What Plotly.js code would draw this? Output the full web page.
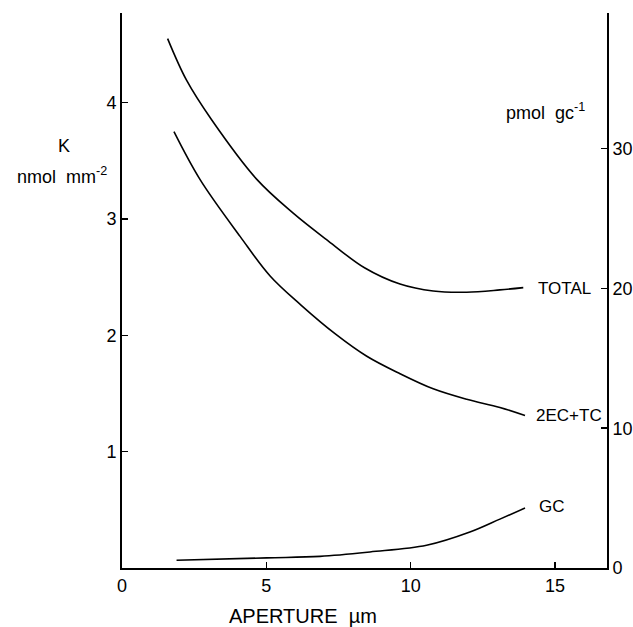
<!DOCTYPE html>
<html><head><meta charset="utf-8">
<script src="https://cdn.plot.ly/plotly-3.0.1.min.js"></script>
<style>html,body{margin:0;padding:0;background:#fff}</style>
</head><body>
<div id="chart" style="width:633px;height:627px"></div>
<script>
// TOTAL curve (K, nmol mm^-2 vs aperture µm)
var totalX = [1.58, 2.24, 3.11, 4.67, 5.93, 7.15, 8.40, 9.63, 10.78, 11.94, 13.09, 13.90];
var totalY = [4.55, 4.19, 3.85, 3.34, 3.05, 2.81, 2.58, 2.44, 2.38, 2.37, 2.39, 2.41];
// 2EC+TC curve
var ecX = [1.80, 2.70, 4.09, 5.13, 6.20, 7.40, 8.48, 9.63, 10.78, 11.94, 13.09, 13.96];
var ecY = [3.75, 3.34, 2.85, 2.51, 2.26, 2.01, 1.82, 1.67, 1.54, 1.45, 1.38, 1.31];
// GC curve
var gcX = [1.89, 5.01, 6.86, 8.59, 10.55, 12.05, 13.09, 13.96];
var gcY = [0.066, 0.087, 0.10, 0.138, 0.195, 0.309, 0.42, 0.515];
// tick labels
var xTicks = [0, 5, 10, 15];
var yTicks = [1, 2, 3, 4];
var y2Ticks = [0, 10, 20, 30];
var curveLabels = ["TOTAL", "2EC+TC", "GC"];

var FONT = "Liberation Sans, Arial, sans-serif";
var line = {color: "#000", width: 1.6, shape: "spline", smoothing: 1};
var traces = [
  {x: totalX, y: totalY, mode: "lines", line: line, showlegend: false, hoverinfo: "skip"},
  {x: ecX, y: ecY, mode: "lines", line: line, showlegend: false, hoverinfo: "skip"},
  {x: gcX, y: gcY, mode: "lines", line: line, showlegend: false, hoverinfo: "skip"},
  {x: [null], y: [null], yaxis: "y2", mode: "lines", showlegend: false, hoverinfo: "skip"}
];

function lastPt(xs, ys){ return [xs[xs.length-1], ys[ys.length-1]]; }
var ends = [lastPt(totalX,totalY), lastPt(ecX,ecY), lastPt(gcX,gcY)];
var shifts = [[13, -1], [9, 0], [12, 2]];
var anns = curveLabels.map(function(t,i){
  return {x: ends[i][0], y: ends[i][1], xref: "x", yref: "y", text: t, showarrow: false,
          xanchor: "left", yanchor: "middle", xshift: shifts[i][0], yshift: shifts[i][1],
          font: {family: FONT, size: 17, color: "#000"}};
});
function paperAnn(x, y, text, size){
  return {x: x, y: y, xref: "paper", yref: "paper", text: text, showarrow: false,
    xanchor: "center", yanchor: "middle", font: {family: FONT, size: size, color: "#000"}};
}
anns.push(paperAnn(-0.1186, 0.760, "K", 18));
anns.push(paperAnn(-0.124, 0.708, "nmol  mm<sup>-2</sup>", 18));
anns.push(paperAnn(0.874, 0.822, "pmol  gc<sup>-1</sup>", 18));
anns.push(paperAnn(0.374, -0.0865, "APERTURE  \u00b5m", 20));

var axBase = {showgrid: false, zeroline: false, showline: true, linecolor: "#000", linewidth: 2,
  ticks: "inside", ticklen: 6, tickwidth: 1.5, tickcolor: "#000",
  tickfont: {family: FONT, size: 18, color: "#000"}, fixedrange: true};

var layout = {
  width: 633, height: 627,
  margin: {l: 122, r: 26, t: 13, b: 59},
  paper_bgcolor: "#fff", plot_bgcolor: "#fff",
  xaxis: Object.assign({}, axBase, {range: [0, 16.8], tickvals: xTicks, ticktext: xTicks.map(String)}),
  yaxis: Object.assign({}, axBase, {range: [0, 4.77], tickvals: yTicks, ticktext: yTicks.map(String)}),
  yaxis2: Object.assign({}, axBase, {overlaying: "y", side: "right", range: [0, 39.7],
    tickvals: y2Ticks, ticktext: y2Ticks.map(String)}),
  annotations: anns
};
Plotly.newPlot("chart", traces, layout, {displayModeBar: false, staticPlot: true});
</script>
</body></html>
